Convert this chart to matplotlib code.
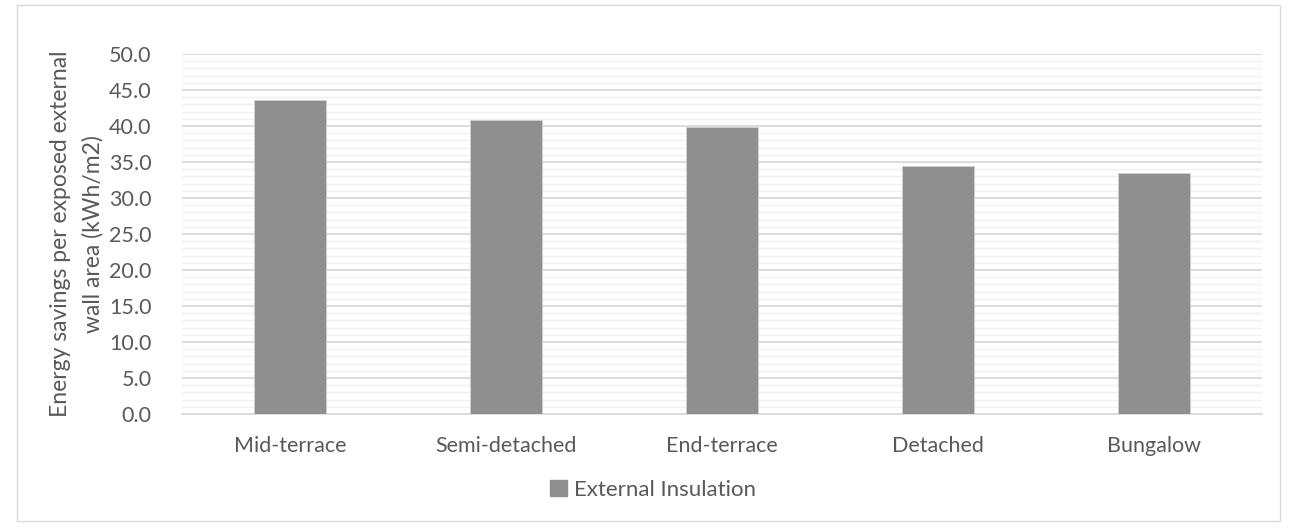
import matplotlib.pyplot as plt
import matplotlib.patches as mpatches
from matplotlib.ticker import MultipleLocator

# -- DATA -- #
categories = ["Mid-terrace", "Semi-detached", "End-terrace", "Detached", "Bungalow"]
savings = [43.6, 40.8, 39.8, 34.4, 33.5]
series_name = "External Insulation"
y_label = "Energy savings per exposed external\nwall area (kWh/m2)"

text_color = "#595959"
bar_color = "#8f8f8f"

plt.rcParams['font.family'] = ['Lato', 'DejaVu Sans']

fig = plt.figure(figsize=(12.91, 5.32), dpi=100)
ax = fig.add_axes([182 / 1291, 1 - 414 / 532, 1080 / 1291, 360 / 532])

x = range(len(categories))
ax.bar(x, savings, width=0.33, color=bar_color, edgecolor="#d0d0d0",
       linewidth=0.6, zorder=3, label=series_name)

ax.set_xlim(-0.5, len(categories) - 0.5)
ax.set_ylim(0, 50)
ax.yaxis.set_minor_locator(MultipleLocator(1))
ax.set_yticks([v * 5 for v in range(11)])
ax.set_yticklabels(["%.1f" % (v * 5) for v in range(11)])
ax.set_xticks(list(x))
ax.set_xticklabels(categories)

ax.grid(which="major", axis="y", color="#d9d9d9", linewidth=1.3, zorder=0)
ax.grid(which="minor", axis="y", color="#f0f0f0", linewidth=1.0, zorder=0)

for side in ["top", "right", "left"]:
    ax.spines[side].set_visible(False)
ax.spines["bottom"].set_color("#d9d9d9")
ax.spines["bottom"].set_linewidth(1.3)

ax.tick_params(axis="both", which="both", length=0, colors=text_color, labelsize=15.5)
ax.tick_params(axis="y", pad=22)
ax.tick_params(axis="x", pad=16)

ax.set_ylabel(y_label, color=text_color, fontsize=16.5, labelpad=4, linespacing=1.6)

handle = mpatches.Patch(color=bar_color, label=series_name)
fig.legend(handles=[handle], loc="center", bbox_to_anchor=(653 / 1291, 1 - 490 / 532),
           frameon=False, fontsize=16, handlelength=0.75, handleheight=0.75,
           handletextpad=0.3, labelcolor=text_color)

border = mpatches.Rectangle((17 / 1291, 1 - 521 / 532), 1263 / 1291, 516 / 532,
                            transform=fig.transFigure, fill=False,
                            edgecolor="#d9d9d9", linewidth=1.0)
fig.patches.append(border)

fig.savefig("out.png", dpi=100)
